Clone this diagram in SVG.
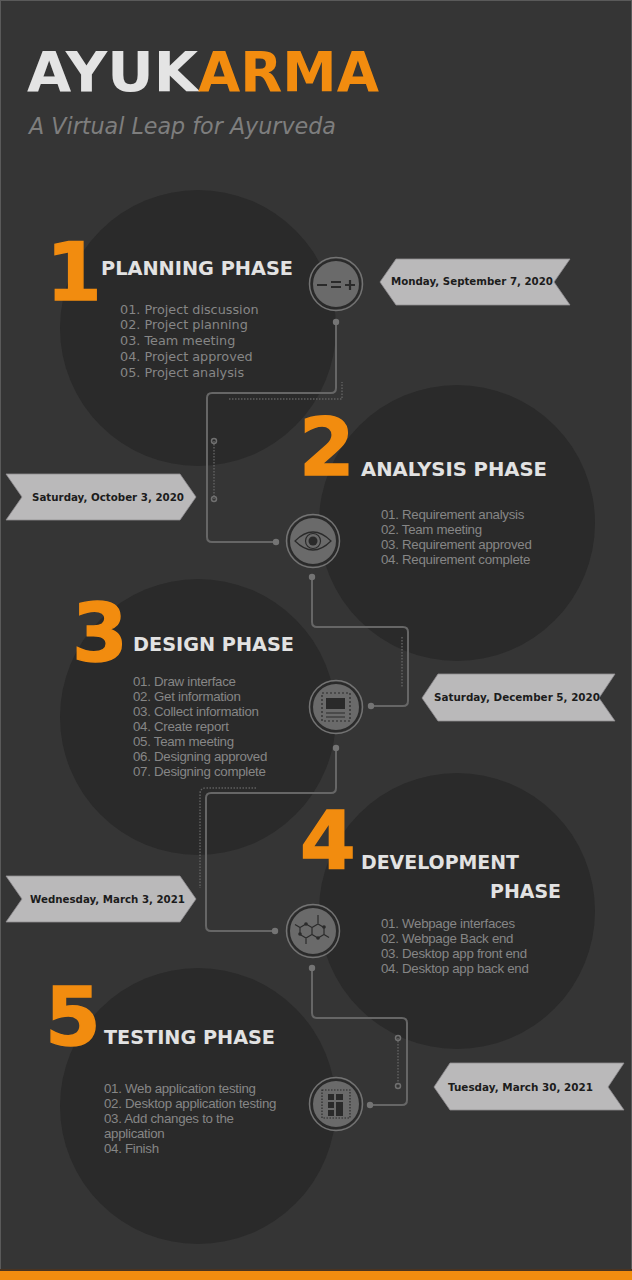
<svg xmlns="http://www.w3.org/2000/svg" width="632" height="1280" viewBox="0 0 632 1280">
<style>
.blob{fill:#2a2a2a}
.head{font-family:"DejaVu Sans",sans-serif;font-weight:700;font-size:20px;fill:#e2e2e2}
.num{font-family:"DejaVu Sans",sans-serif;font-weight:700;font-size:80px;fill:#f28c0f;stroke:#f28c0f;stroke-width:1.5}
.li{font-family:"Liberation Sans",sans-serif;font-size:13.3px;letter-spacing:-.29px;fill:#868686}
.li1{font-family:"DejaVu Sans",sans-serif;font-size:12.8px;fill:#868686}
.date{font-family:"DejaVu Sans",sans-serif;font-weight:700;font-size:11px;fill:#1c1c1c}
.ribbon{fill:#bab9ba;stroke:#8f8d90;stroke-width:.8}
.ring{fill:#6a6a6a;stroke:#2a2a2a;stroke-width:2}
.ring2{fill:none;stroke:#737373;stroke-width:1.5}
.wire{fill:none;stroke:#666;stroke-width:2}
.dash{fill:none;stroke:#5f5f5f;stroke-width:1.5;stroke-dasharray:1.5 1.5}
.dot{fill:#747474}
.hollow{fill:none;stroke:#707070;stroke-width:1.5}
.ic{fill:none;stroke:#2a2a2a;stroke-width:1.2}
.icf{fill:#2a2a2a}
</style>
<rect width="632" height="1280" fill="#353535"/>
<rect x="0.5" y="0.5" width="631" height="1279" fill="none" stroke="#5a5a5a"/>
<rect x="0" y="1271" width="632" height="9" fill="#f28c0f"/>
<rect x="0" y="1269" width="632" height="2" fill="#4a3320"/>
<g id="title">
<text x="27" y="91" font-family="'DejaVu Sans',sans-serif" font-weight="700" font-size="56" fill="#e4e4e4" textLength="171" lengthAdjust="spacingAndGlyphs">AYUK</text>
<text x="198" y="91" font-family="'DejaVu Sans',sans-serif" font-weight="700" font-size="56" fill="#f28c0f" textLength="181" lengthAdjust="spacingAndGlyphs">ARMA</text>
<text x="29" y="134" font-family="'DejaVu Sans',sans-serif" font-style="italic" font-size="23" fill="#7e7e7e" textLength="307" lengthAdjust="spacingAndGlyphs">A Virtual Leap for Ayurveda</text>
</g>
<g id="blobs">
<circle class="blob" cx="198" cy="328" r="138"/>
<circle class="blob" cx="457" cy="523" r="138"/>
<circle class="blob" cx="198" cy="717" r="138"/>
<circle class="blob" cx="457" cy="911" r="138"/>
<circle class="blob" cx="198" cy="1106" r="138"/>
</g>
<g id="connectors">
<path class="wire" d="M336 322V388Q336 393 331 393H212Q207 393 207 398V537Q207 542 212 542H276"/>
<path class="wire" d="M312 577V622Q312 627 317 627H403Q408 627 408 632V701Q408 706 403 706H371"/>
<path class="wire" d="M336 748V788Q336 793 331 793H211Q206 793 206 798V926Q206 931 211 931H275"/>
<path class="wire" d="M312 968V1013Q312 1018 317 1018H402Q407 1018 407 1023V1100Q407 1105 402 1105H370"/>
<path class="dash" d="M229 399H342V382"/>
<path class="dash" d="M214 441V499"/>
<path class="dash" d="M402 637V688"/>
<path class="dash" d="M256 788H206Q200 788 200 794V888"/>
<path class="dash" d="M398 1038V1086"/>
<circle class="hollow" cx="214" cy="441" r="2.5"/><circle class="hollow" cx="214" cy="499" r="2.5"/>
<circle class="hollow" cx="398" cy="1038" r="2.5"/><circle class="hollow" cx="398" cy="1086" r="2.5"/>
<circle class="dot" cx="336" cy="322" r="3.2"/><circle class="dot" cx="276" cy="542" r="3.2"/>
<circle class="dot" cx="312" cy="577" r="3.2"/><circle class="dot" cx="371" cy="706" r="3.2"/>
<circle class="dot" cx="336" cy="748" r="3.2"/><circle class="dot" cx="275" cy="931" r="3.2"/>
<circle class="dot" cx="312" cy="968" r="3.2"/><circle class="dot" cx="370" cy="1105" r="3.2"/>
</g>
<g id="node-1">
<text class="num" x="46" y="300">1</text>
<text class="head" x="101" y="275" textLength="192" lengthAdjust="spacingAndGlyphs">PLANNING PHASE</text>
<text class="li1" x="120" y="313.500">01. Project discussion</text>
<text class="li1" x="120" y="328.500">02. Project planning</text>
<text class="li1" x="120" y="344.500">03. Team meeting</text>
<text class="li1" x="120" y="360.500">04. Project approved</text>
<text class="li1" x="120" y="376.500">05. Project analysis</text>
<circle class="ring" cx="336" cy="284" r="24"/><circle class="ring2" cx="336" cy="284" r="26.5"/>
<path d="M317 285h10M331 282h10M331 287h10M345 285h10M350 280v10" stroke="#2a2a2a" stroke-width="2.2" fill="none"/>
<path class="ribbon" d="M380 282L396 259H570L554 282L570 305H396Z"/>
<text class="date" x="391" y="285" textLength="162" lengthAdjust="spacingAndGlyphs">Monday, September 7, 2020</text>
</g>
<g id="node-2">
<text class="num" x="299" y="475">2</text>
<text class="head" x="361" y="476" textLength="186" lengthAdjust="spacingAndGlyphs">ANALYSIS PHASE</text>
<text class="li" x="381" y="518.500">01. Requirement analysis</text>
<text class="li" x="381" y="533.500">02. Team meeting</text>
<text class="li" x="381" y="548.500">03. Requirement approved</text>
<text class="li" x="381" y="563.500">04. Requirement complete</text>
<circle class="ring" cx="313" cy="541" r="24"/><circle class="ring2" cx="313" cy="541" r="26.5"/>
<path class="ic" d="M295 541Q313 523 331 541Q313 559 295 541Z" stroke-width="1.5"/><circle class="ic" cx="313" cy="541" r="7.5" stroke-width="1.5"/><circle class="icf" cx="313" cy="541" r="4.5"/>
<path class="ribbon" d="M6 474H180L196 497L180 520H6L22 497Z"/>
<text class="date" x="32" y="501" textLength="152" lengthAdjust="spacingAndGlyphs">Saturday, October 3, 2020</text>
</g>
<g id="node-3">
<text class="num" x="72" y="661">3</text>
<text class="head" x="133" y="651" textLength="161" lengthAdjust="spacingAndGlyphs">DESIGN PHASE</text>
<text class="li" x="133" y="686">01. Draw interface</text>
<text class="li" x="133" y="701">02. Get information</text>
<text class="li" x="133" y="716">03. Collect information</text>
<text class="li" x="133" y="731">04. Create report</text>
<text class="li" x="133" y="746">05. Team meeting</text>
<text class="li" x="133" y="761">06. Designing approved</text>
<text class="li" x="133" y="776">07. Designing complete</text>
<circle class="ring" cx="336" cy="707" r="24"/><circle class="ring2" cx="336" cy="707" r="26.5"/>
<rect class="ic" x="322" y="693" width="28" height="28" stroke-dasharray="2 2"/><rect class="icf" x="326" y="698" width="19" height="11"/><path class="ic" d="M326 713h19M326 717h19"/>
<path class="ribbon" d="M422 698L438 674H615L599 698L615 721H438Z"/>
<text class="date" x="434" y="701" textLength="166" lengthAdjust="spacingAndGlyphs">Saturday, December 5, 2020</text>
</g>
<g id="node-4">
<text class="num" x="300" y="869">4</text>
<text class="head" x="361" y="869" textLength="158" lengthAdjust="spacingAndGlyphs">DEVELOPMENT</text>
<text class="head" x="490" y="898" textLength="71" lengthAdjust="spacingAndGlyphs">PHASE</text>
<text class="li" x="381" y="928">01. Webpage interfaces</text>
<text class="li" x="381" y="943">02. Webpage Back end</text>
<text class="li" x="381" y="958">03. Desktop app front end</text>
<text class="li" x="381" y="973">04. Desktop app back end</text>
<circle class="ring" cx="313" cy="931" r="24"/><circle class="ring2" cx="313" cy="931" r="26.5"/>
<path class="ic" d="M306 924l6 3.5v7l-6 3.5l-6-3.5v-7ZM312 927.5l6-3.5l6 3.5v7l-6 3.5l-6-3.5M318 924v-9M324 934.500l5 3M300 927.500l-5-3M306 938v6"/>
<circle class="icf" cx="300" cy="934" r="1.800"/><circle class="icf" cx="318" cy="938" r="1.800"/><circle class="icf" cx="306" cy="924" r="1.800"/><circle class="icf" cx="324" cy="927" r="1.800"/>
<path class="ribbon" d="M6 876H180L196 899L180 922H6L22 899Z"/>
<text class="date" x="30" y="903" textLength="155" lengthAdjust="spacingAndGlyphs">Wednesday, March 3, 2021</text>
</g>
<g id="node-5">
<text class="num" x="45" y="1045">5</text>
<text class="head" x="104" y="1044" textLength="171" lengthAdjust="spacingAndGlyphs">TESTING PHASE</text>
<text class="li" x="104" y="1093">01. Web application testing</text>
<text class="li" x="104" y="1108">02. Desktop application testing</text>
<text class="li" x="104" y="1123">03. Add changes to the</text>
<text class="li" x="104" y="1138">application</text>
<text class="li" x="104" y="1153">04. Finish</text>
<circle class="ring" cx="336" cy="1104" r="24"/><circle class="ring2" cx="336" cy="1104" r="26.5"/>
<rect class="ic" x="322" y="1090" width="28" height="28" stroke-dasharray="1.500 1.500"/>
<path class="icf" d="M328 1094h6v6h-6ZM336 1094h7v6h-7ZM328 1102h6v6h-6ZM336 1102h7v14h-7ZM328 1110h6v6h-6Z"/>
<path class="ribbon" d="M434 1087L450 1063H624L608 1087L624 1110H450Z"/>
<text class="date" x="448" y="1091" textLength="145" lengthAdjust="spacingAndGlyphs">Tuesday, March 30, 2021</text>
</g>
</svg>
